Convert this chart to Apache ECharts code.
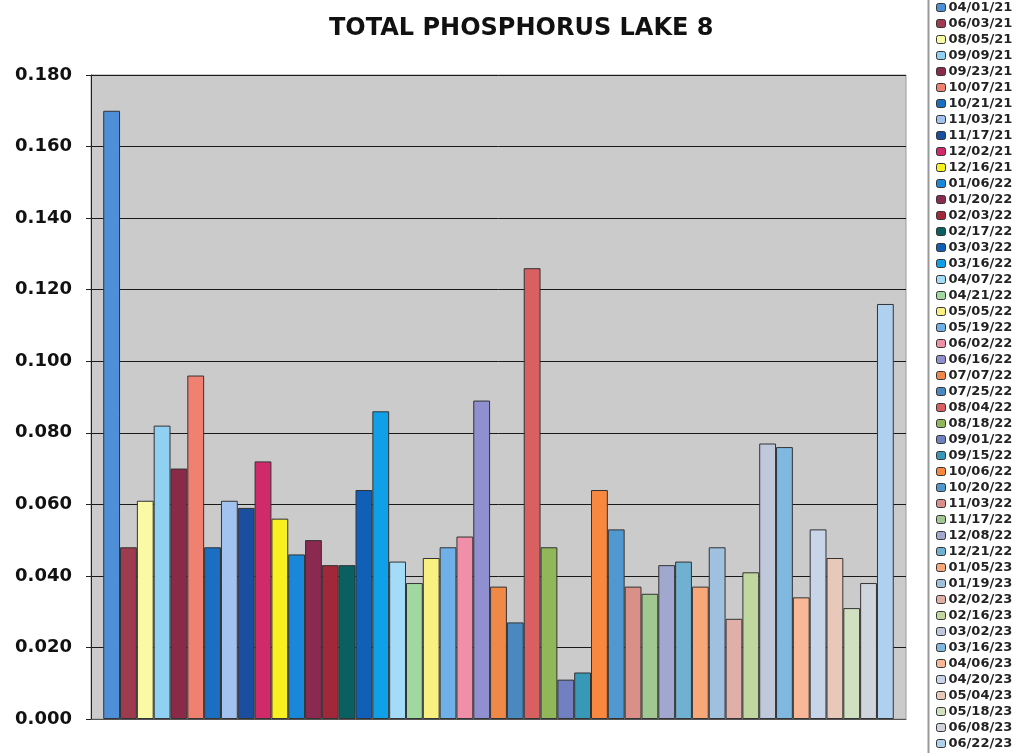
<!DOCTYPE html>
<html>
<head>
<meta charset="utf-8">
<title>Total Phosphorus Lake 8</title>
<script src="https://cdn.jsdelivr.net/npm/echarts@6/dist/echarts.min.js"></script>
<style>
  html, body { margin: 0; padding: 0; background: #ffffff; }
  #chart { width: 1019px; height: 753px; }
</style>
</head>
<body>
<div id="chart"></div>
<script>
// Sampling dates (one bar per date)
const sampleDates = [
  '04/01/21', '06/03/21', '08/05/21', '09/09/21', '09/23/21', '10/07/21',
  '10/21/21', '11/03/21', '11/17/21', '12/02/21', '12/16/21', '01/06/22',
  '01/20/22', '02/03/22', '02/17/22', '03/03/22', '03/16/22', '04/07/22',
  '04/21/22', '05/05/22', '05/19/22', '06/02/22', '06/16/22', '07/07/22',
  '07/25/22', '08/04/22', '08/18/22', '09/01/22', '09/15/22', '10/06/22',
  '10/20/22', '11/03/22', '11/17/22', '12/08/22', '12/21/22', '01/05/23',
  '01/19/23', '02/02/23', '02/16/23', '03/02/23', '03/16/23', '04/06/23',
  '04/20/23', '05/04/23', '05/18/23', '06/08/23', '06/22/23'
];

// Total phosphorus (mg/L) for each sampling date
const phosphorus = [
  0.170, 0.048, 0.061, 0.082, 0.070, 0.096,
  0.048, 0.061, 0.059, 0.072, 0.056, 0.046,
  0.050, 0.043, 0.043, 0.064, 0.086, 0.044,
  0.038, 0.045, 0.048, 0.051, 0.089, 0.037,
  0.027, 0.126, 0.048, 0.011, 0.013, 0.064,
  0.053, 0.037, 0.035, 0.043, 0.044, 0.037,
  0.048, 0.028, 0.041, 0.077, 0.076, 0.034,
  0.053, 0.045, 0.031, 0.038, 0.116
];

// Value axis ticks
const yTicks = [0.000, 0.020, 0.040, 0.060, 0.080, 0.100, 0.120, 0.140, 0.160, 0.180];

// Fill colour for each date's bar
const barColors = [
  '#4f8fd8', '#9e3b4e', '#fafaa4', '#90d0f2', '#8a2a48', '#f08070',
  '#1a6fc0', '#a2c2f0', '#1a4fa0', '#d02a6a', '#f8f020', '#1a88d8',
  '#8a2a50', '#a02838', '#0a6060', '#1060b8', '#10a0e8', '#a4dcf8',
  '#a0d8a0', '#f8f080', '#70b0e8', '#f090a8', '#9090d0', '#f08848',
  '#4a88c0', '#d86060', '#90b858', '#7080c0', '#3898b8', '#f88840',
  '#5098d0', '#d89088', '#a0c890', '#a0a8d0', '#70b0d0', '#f8a878',
  '#a0c0e0', '#e0b0a8', '#c0d8a0', '#c0c8dc', '#80b8e0', '#f8b898',
  '#c8d4e8', '#e8c8b8', '#d0e0c0', '#d0d4dc', '#b0d0f0'
];

const chart = echarts.init(document.getElementById('chart'), null, { renderer: 'canvas' });

const series = sampleDates.map((d, i) => ({
  name: d,
  type: 'bar',
  data: [phosphorus[i]],
  barGap: '0%',
  barCategoryGap: '3%',
  itemStyle: { color: barColors[i], borderColor: '#333333', borderWidth: 1 }
}));

chart.setOption({
  animation: false,
  backgroundColor: '#ffffff',
  title: {
    text: 'TOTAL PHOSPHORUS LAKE 8',
    left: 324,
    top: 12,
    textStyle: { fontFamily: 'DejaVu Sans', fontWeight: 'bold', fontSize: 24, color: '#111111' }
  },
  legend: {
    orient: 'vertical',
    left: 936,
    top: 1,
    padding: 0,
    itemWidth: 9,
    itemHeight: 8,
    itemGap: 3,
    icon: 'roundRect',
    itemStyle: { borderColor: '#333333', borderWidth: 1 },
    textStyle: { fontFamily: 'DejaVu Sans', fontWeight: 'bold', fontSize: 13, lineHeight: 13, color: '#222222', padding: [0, 0, 0, -2] },
    data: sampleDates
  },
  grid: {
    left: 91, right: 113, top: 75, bottom: 34,
    show: true,
    backgroundColor: '#cbcbcb',
    borderColor: '#9a9a9a',
    borderWidth: 1
  },
  xAxis: {
    type: 'category',
    data: [''],
    axisLine: { show: true, lineStyle: { color: '#555555', width: 1 } },
    axisTick: { show: false },
    axisLabel: { show: false }
  },
  yAxis: {
    type: 'value',
    min: yTicks[0],
    max: yTicks[yTicks.length - 1],
    interval: 0.02,
    axisLine: { show: true, lineStyle: { color: '#222222', width: 1 } },
    axisTick: { show: true, inside: false, length: 5, lineStyle: { color: '#222222' } },
    axisLabel: {
      margin: 19,
      fontFamily: 'DejaVu Sans',
      fontWeight: 'bold',
      fontSize: 18,
      color: '#111111',
      formatter: v => v.toFixed(3)
    },
    splitLine: { show: true, lineStyle: { color: '#1a1a1a', width: 1 } }
  },
  graphic: [{
    type: 'line',
    shape: { x1: 928.5, y1: 0, x2: 928.5, y2: 753 },
    style: { stroke: '#9a9a9a', lineWidth: 2 },
    silent: true
  }],
  series: series
});
</script>
</body>
</html>
